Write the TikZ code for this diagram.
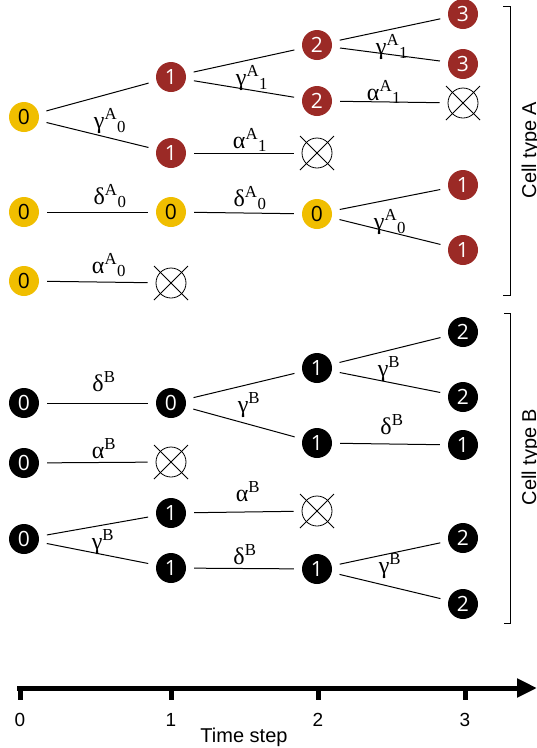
\documentclass[tikz,border=0pt]{standalone}
\usepackage{fontspec}
\setmainfont{Liberation Sans}
\newfontfamily\greekfont{Liberation Serif}
\newfontfamily\cellfont{Open Sans}
\usetikzlibrary{arrows.meta}
\definecolor{cellgold}{RGB}{240,190,0}
\definecolor{cellrust}{RGB}{155,42,38}
\newcommand{\rate}[3]{#1\textsuperscript{#2}\textsubscript{#3}}
\tikzset{
  cell/.style={circle, inner sep=0pt, minimum size=30pt, font=\cellfont\fontsize{21}{21}\selectfont},
  cellyellow/.style={cell, fill=cellgold},
  cellred/.style={cell, fill=cellrust, text=white},
  cellblack/.style={cell, fill=black, text=white},
  dead/.style={circle, draw, inner sep=0pt, minimum size=30pt, line width=0.8pt},
  ratelabel/.style={font=\greekfont\fontsize{24}{24}\selectfont, inner sep=0pt},
  branch/.style={line width=1pt, shorten <=8pt, shorten >=8pt},
}
\begin{document}
\begin{tikzpicture}[x=1pt, y=-1pt]
      \useasboundingbox (0,0) rectangle (537,748);
      \draw
        (24,117) node[cellyellow] (a0){0}
        (171,77) node[cellred] (a1){1}
        (171,153) node[cellred] (a2){1}
        (317,45) node[cellred] (a3){2}
        (317,101) node[cellred] (a4){2}
        (463,14) node[cellred] (a5){3}
        (463,64) node[cellred] (a6){3}
        (463,103) node[dead] (xa1){}
        (317,153) node[dead] (xa2){}
        (24,212) node[cellyellow] (b0){0}
        (171,212) node[cellyellow] (b1){0}
        (317,214) node[cellyellow] (b2){0}
        (463,185) node[cellred] (b3){1}
        (463,250) node[cellred] (b4){1}
        (24,281) node[cellyellow] (c0){0}
        (171,283) node[dead] (xc1){};
      \draw
        (24,403) node[cellblack] (d0){0}
        (171,403) node[cellblack] (d1){0}
        (317,368) node[cellblack] (d2){1}
        (317,443) node[cellblack] (d3){1}
        (463,332) node[cellblack] (d4){2}
        (463,397) node[cellblack] (d5){2}
        (463,445) node[cellblack] (d6){1}
        (24,463) node[cellblack] (e0){0}
        (171,462) node[dead] (xe1){}
        (24,539) node[cellblack] (f0){0}
        (171,513) node[cellblack] (f1){1}
        (171,568) node[cellblack] (f2){1}
        (317,511) node[dead] (xf1){}
        (317,569) node[cellblack] (f3){1}
        (463,538) node[cellblack] (f4){2}
        (463,604) node[cellblack] (f5){2};
      \foreach \n in {xa1,xa2,xc1,xe1,xf1}
        \draw[line width=0.8pt] (\n.center) +(-17,-17) -- +(17,17) +(-17,17) -- +(17,-17);
      \begin{scope}[branch]
        \draw (a0) to (a1);
        \draw (a0) to (a2);
        \draw (a1) to (a3);
        \draw (a1) to (a4);
        \draw (a3) to (a5);
        \draw (a3) to (a6);
        \draw (a4) to (xa1);
        \draw (a2) to (xa2);
        \draw (b0) to (b1);
        \draw (b1) to (b2);
        \draw (b2) to (b3);
        \draw (b2) to (b4);
        \draw (c0) to (xc1);
        \draw (d0) to (d1);
        \draw (d1) to (d2);
        \draw (d1) to (d3);
        \draw (d2) to (d4);
        \draw (d2) to (d5);
        \draw (d3) to (d6);
        \draw (e0) to (xe1);
        \draw (f0) to (f1);
        \draw (f0) to (f2);
        \draw (f1) to (xf1);
        \draw (f2) to (f3);
        \draw (f3) to (f4);
        \draw (f3) to (f5);
      \end{scope}
      \begin{scope}[every node/.style=ratelabel]
        \node (ra1) at (110,121) {\rate{γ}{A}{0}};
        \node (ra2) at (252,78) {\rate{γ}{A}{1}};
        \node (ra3) at (392,47) {\rate{γ}{A}{1}};
        \node (ra4) at (250,140) {\rate{α}{A}{1}};
        \node (ra5) at (384,92) {\rate{α}{A}{1}};
        \node (ra6) at (110,196) {\rate{δ}{A}{0}};
        \node (ra7) at (250,198) {\rate{δ}{A}{0}};
        \node (ra8) at (390,222) {\rate{γ}{A}{0}};
        \node (ra9) at (109,265) {\rate{α}{A}{0}};
        \node (rb1) at (104,382) {δ\textsuperscript{B}};
        \node (rb2) at (249,405) {γ\textsuperscript{B}};
        \node (rb3) at (389,369) {γ\textsuperscript{B}};
        \node (rb4) at (392,425) {δ\textsuperscript{B}};
        \node (rb5) at (104,449) {α\textsuperscript{B}};
        \node (rb6) at (248,492) {α\textsuperscript{B}};
        \node (rb7) at (103,542) {γ\textsuperscript{B}};
        \node (rb8) at (245,555) {δ\textsuperscript{B}};
        \node (rb9) at (390,566) {γ\textsuperscript{B}};
      \end{scope}
      \draw[line width=1pt] (503,6) -- (510,6) -- (510,295) -- (503,295);
      \draw[line width=1pt] (504,313) -- (510,313) -- (510,623) -- (504,623);
      \node[rotate=90, anchor=base, font=\fontsize{20}{20}\selectfont] (typeA) at (536,150) {Cell type A};
      \node[rotate=90, anchor=base, font=\fontsize{20}{20}\selectfont] (typeB) at (536,457) {Cell type B};
      \draw[line width=5pt, -{Triangle[length=20pt, width=18pt]}] (17,688) -- (537,688);
      \foreach \x/\t in {20/0, 171/1, 318/2, 465/3} {
        \draw[line width=5pt] (\x,686) -- (\x,700);
        \node[font=\fontsize{19}{19}\selectfont] (tick\t) at (\x,720) {\t};
      }
      \node[anchor=base, font=\fontsize{20}{20}\selectfont] (timestep) at (244,742) {Time step};
    \end{tikzpicture}
\end{document}
